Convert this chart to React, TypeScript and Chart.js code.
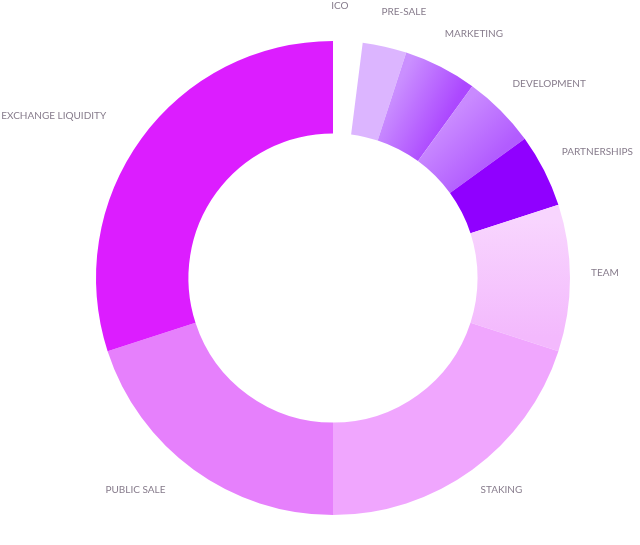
import React, { useEffect, useRef } from "react";
import { Chart, registerables } from "chart.js";

Chart.register(...registerables);

const categories = [
  "ICO",
  "PRE-SALE",
  "MARKETING",
  "DEVELOPMENT",
  "PARTNERSHIPS",
  "TEAM",
  "STAKING",
  "PUBLIC SALE",
  "EXCHANGE LIQUIDITY",
];
const allocation = [2, 3, 5, 5, 5, 10, 20, 20, 30];
const colorStart = [
  "#ffffff",
  "#dcb5ff",
  "#ca8fff",
  "#c98aff",
  "#9000ff",
  "#f8d5fe",
  "#f0a6fe",
  "#e680fc",
  "#dc1dff",
];
const colorEnd = [
  "#ffffff",
  "#dcb5ff",
  "#ac48ff",
  "#b25cff",
  "#9000ff",
  "#f3b9fd",
  "#f0a6fe",
  "#e680fc",
  "#dc1dff",
];

const LABEL_FONT = "10px Lato, 'Open Sans', sans-serif";
const LABEL_COLOR = "#877c8c";

const gradientPlugin = {
  id: "segGradient",
  beforeDatasetsDraw(chart: any) {
    const ctx = chart.ctx;
    const meta = chart.getDatasetMeta(0);
    meta.data.forEach((arc: any, i: number) => {
      const { x, y, startAngle, endAngle, innerRadius, outerRadius } = arc.getProps(
        ["x", "y", "startAngle", "endAngle", "innerRadius", "outerRadius"],
        true
      );
      const rm = (innerRadius + outerRadius) / 2;
      const g = ctx.createLinearGradient(
        x + rm * Math.cos(startAngle),
        y + rm * Math.sin(startAngle),
        x + rm * Math.cos(endAngle),
        y + rm * Math.sin(endAngle)
      );
      g.addColorStop(0, colorStart[i]);
      g.addColorStop(1, colorEnd[i]);
      arc.options.backgroundColor = g;
    });
  },
};

const outLabelPlugin = {
  id: "outLabels",
  afterDatasetsDraw(chart: any) {
    const ctx = chart.ctx;
    const meta = chart.getDatasetMeta(0);
    ctx.save();
    ctx.font = LABEL_FONT;
    ctx.fillStyle = LABEL_COLOR;
    ctx.textBaseline = "middle";
    meta.data.forEach((arc: any, i: number) => {
      const { x, y, startAngle, endAngle, outerRadius } = arc.getProps(
        ["x", "y", "startAngle", "endAngle", "outerRadius"],
        true
      );
      const mid = (startAngle + endAngle) / 2;
      const cx = x - 10;
      const cy = y - 5;
      const r = outerRadius + 31;
      const dx = Math.cos(mid);
      const dy = Math.sin(mid);
      const px = cx + r * dx;
      const py = cy + r * dy;
      if (Math.abs(dx) < 0.1) ctx.textAlign = "center";
      else ctx.textAlign = dx > 0 ? "left" : "right";
      ctx.fillText(categories[i], px, py);
    });
    ctx.restore();
  },
};

export default function App() {
  const canvasRef = useRef<HTMLCanvasElement | null>(null);

  useEffect(() => {
    if (!canvasRef.current) return;
    const chart = new Chart(canvasRef.current, {
      type: "doughnut",
      data: {
        labels: categories,
        datasets: [
          {
            data: allocation,
            backgroundColor: colorStart,
            borderWidth: 0,
            hoverOffset: 0,
          },
        ],
      },
      options: {
        responsive: false,
        animation: false,
        cutout: "61%",
        layout: { padding: { left: 96, right: 70, top: 41, bottom: 30 } },
        plugins: {
          legend: { display: false },
          tooltip: { enabled: false },
        },
      },
      plugins: [gradientPlugin, outLabelPlugin],
    });
    return () => chart.destroy();
  }, []);

  return (
    <div style={{ position: "fixed", left: 0, top: 0, width: 640, height: 545, background: "#fff" }}>
      <canvas ref={canvasRef} width={640} height={545} style={{ width: 640, height: 545 }} />
    </div>
  );
}
